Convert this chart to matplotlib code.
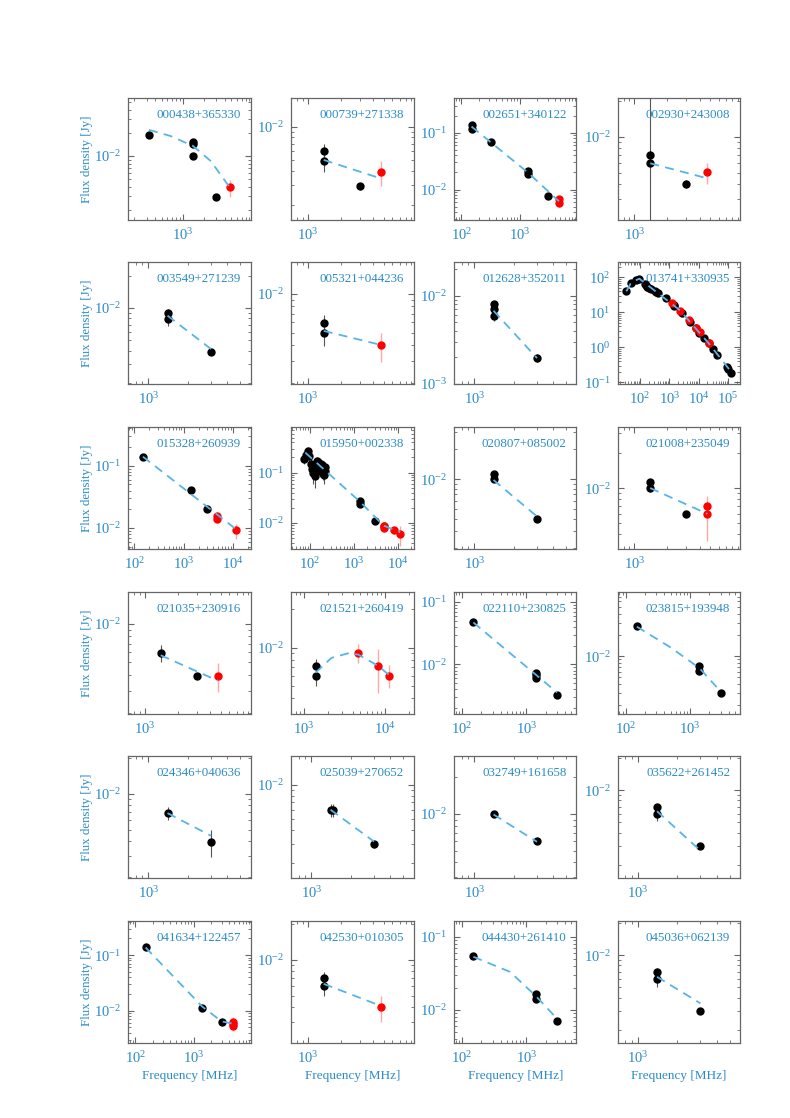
import matplotlib
matplotlib.use("Agg")
import matplotlib.pyplot as plt
from matplotlib.ticker import LogLocator, LogFormatterSciNotation, NullFormatter

plt.rcParams['font.family'] = ['Liberation Serif', 'DejaVu Serif']
plt.rcParams['mathtext.fontset'] = 'stix'

# source names, one panel per source
names = ["000438+365330", "000739+271338", "002651+340122", "002930+243008",
         "003549+271239", "005321+044236", "012628+352011", "013741+330935",
         "015328+260939", "015950+002338", "020807+085002", "021008+235049",
         "021035+230916", "021521+260419", "022110+230825", "023815+193948",
         "024346+040636", "025039+270652", "032749+161658", "035622+261452",
         "041634+122457", "042530+010305", "044430+261410", "045036+062139"]

# catalogue points (black): frequency [MHz], flux [Jy], error [Jy]
blk_nu = [
    [325, 1400, 1400, 1400, 3000],
    [1400, 1400, 3000],
    [150, 150, 325, 1400, 1400, 3000],
    [1400, 1400, 3000],
    [1400, 1400, 3000],
    [1400, 1400],
    [1400, 1400, 1400, 3000],
    [34, 49, 74, 95, 150, 160, 178, 200, 232, 325, 365, 408, 750, 1400, 1420,
     2700, 5000, 8000, 10700, 15000, 22000, 31000, 43000, 90000, 105000, 130000],
    [150, 1400, 3000],
    [76, 84, 92, 99, 107, 115, 122, 130, 143, 151, 158, 166, 174, 181, 189, 197,
     204, 212, 220, 227, 1400, 1400, 3000],
    [1400, 1400, 3000],
    [1400, 1400, 3000],
    [1400, 3000],
    [1400, 1400],
    [150, 1400, 1400, 1400, 3000],
    [150, 1400, 1400, 3000],
    [1400, 3000],
    [1400, 1465, 3000],
    [1400, 3000],
    [1400, 1400, 3000],
    [150, 1400, 3000],
    [1400, 1400],
    [150, 1400, 1400, 3000],
    [1400, 1400, 3000],
]
blk_s = [
    [0.0188, 0.0152, 0.0142, 0.0099, 0.00297],
    [0.0060, 0.00493, 0.00293],
    [0.136, 0.118, 0.0683, 0.0210, 0.0191, 0.00783],
    [0.00706, 0.0061, 0.00403],
    [0.00892, 0.00784, 0.00391],
    [0.00593, 0.00492],
    [0.00804, 0.00705, 0.00591, 0.00198],
    [41, 70, 87, 92, 64, 60, 55, 50, 46, 42, 39, 36, 25, 16, 15.5,
     9.5, 5.4, 3.5, 2.6, 1.9, 1.3, 0.9, 0.62, 0.27, 0.24, 0.18],
    [0.140, 0.0404, 0.0204],
    [0.19, 0.22, 0.27, 0.21, 0.15, 0.12, 0.10, 0.085, 0.13, 0.17, 0.16, 0.13,
     0.11, 0.15, 0.14, 0.12, 0.10, 0.09, 0.13, 0.11, 0.027, 0.0232, 0.0108],
    [0.0112, 0.0100, 0.00394],
    [0.0112, 0.0100, 0.00597],
    [0.00593, 0.00395],
    [0.00711, 0.00604],
    [0.0482, 0.00738, 0.00668, 0.00607, 0.00322],
    [0.0271, 0.0072, 0.0061, 0.00303],
    [0.00692, 0.00395],
    [0.0060, 0.0060, 0.00297],
    [0.0100, 0.00594],
    [0.00698, 0.0060, 0.00299],
    [0.137, 0.0112, 0.0062],
    [0.00706, 0.0060],
    [0.0542, 0.0164, 0.0141, 0.0071],
    [0.00697, 0.00596, 0.0030],
]
blk_e = [
    [0.0015, 0.0008, 0.0008, 0.0006, 0.0002],
    [0.0010, 0.0010, 0.0002],
    [0.012, 0.010, 0.004, 0.0015, 0.0015, 0.0005],
    [0.02, 0.0006, 0.0003],
    [0.0009, 0.0010, 0.0003],
    [0.0009, 0.0010],
    [0.0005, 0.0005, 0.0008, 0.0002],
    [4, 6, 8, 8, 5, 5, 5, 4, 4, 3, 3, 3, 2, 1, 1,
     0.8, 0.4, 0.3, 0.2, 0.15, 0.1, 0.08, 0.05, 0.03, 0.02, 0.02],
    [0.012, 0.003, 0.001],
    [0.04, 0.05, 0.05, 0.04, 0.04, 0.04, 0.04, 0.035, 0.03, 0.03, 0.03, 0.03,
     0.03, 0.03, 0.03, 0.03, 0.03, 0.03, 0.03, 0.03, 0.002, 0.002, 0.0006],
    [0.0006, 0.0006, 0.0002],
    [0.0008, 0.0008, 0.0003],
    [0.0009, 0.0002],
    [0.0010, 0.0010],
    [0.005, 0.0006, 0.0006, 0.0006, 0.0002],
    [0.0025, 0.0006, 0.0006, 0.0002],
    [0.0009, 0.0010],
    [0.0008, 0.0008, 0.0002],
    [0.0006, 0.0003],
    [0.0005, 0.0009, 0.0002],
    [0.012, 0.0008, 0.0004],
    [0.0008, 0.0010],
    [0.005, 0.0012, 0.0012, 0.0004],
    [0.0006, 0.0009, 0.0002],
]

# new measurements (red)
red_nu = [[4700], [4700], [4700, 4700], [4700], [], [4700], [], [1200, 2300, 4700, 8200, 11200, 22300],
          [4700, 4700, 11200], [4700, 4700, 4700, 8200, 11200], [], [4700, 4700],
          [4700], [4700, 8200, 11200], [], [],
          [], [], [], [],
          [4700, 4700, 4700], [4700], [], []]
red_s = [[0.00396], [0.00395], [0.00685, 0.00582], [0.00505], [], [0.00396], [], [18, 11, 5.9, 3.6, 2.7, 1.3],
         [0.0154, 0.0140, 0.00918], [0.0086, 0.0080, 0.0088, 0.0071, 0.0060], [], [0.00704, 0.00597],
         [0.00395], [0.00906, 0.00711, 0.00604], [], [],
         [], [], [], [],
         [0.00632, 0.00577, 0.00521], [0.0040], [], []]
red_e = [[0.0010], [0.0010], [0.0008, 0.0008], [0.0010], [], [0.0010], [], [1, 0.6, 0.3, 0.2, 0.15, 0.1],
         [0.0025, 0.002, 0.0025], [0.0015, 0.0015, 0.0012, 0.0012, 0.0025], [], [0.0006, 0.0025],
         [0.0010], [0.0015, 0.0027, 0.0012], [], [],
         [], [], [], [],
         [0.0012, 0.0010, 0.0010], [0.0010], [], []]

# fitted spectra
fit_nu = [[325, 660, 1400, 2520, 4700], [1400, 4700], [150, 1400, 4700], [1400, 4700],
          [1400, 3000], [1400, 4700], [1400, 3000], [34, 50, 95, 2300, 22300, 130000],
          [150, 11200], [80, 1400, 4700, 11200], [1400, 3000], [1400, 4700],
          [1400, 4700], [1400, 2200, 3500, 4700, 8200, 11200], [150, 3000], [150, 490, 1400, 2600],
          [1400, 3000], [1400, 3000], [1400, 3000], [1400, 3000],
          [150, 1400, 3000, 4700], [1400, 4700], [150, 556, 1400, 2800], [1400, 3000]]
fit_s = [[0.0218, 0.0182, 0.0135, 0.0086, 0.00396], [0.00504, 0.00344], [0.128, 0.0197, 0.00622], [0.00601, 0.0045],
         [0.00847, 0.00414], [0.00515, 0.0040], [0.00674, 0.00195], [40, 72, 92, 11.5, 1.3, 0.2],
         [0.140, 0.00966], [0.25, 0.026, 0.0088, 0.0065], [0.0098, 0.0042], [0.0100, 0.0060],
         [0.00569, 0.0036], [0.00635, 0.0083, 0.0090, 0.0088, 0.0072, 0.0061], [0.047, 0.00356], [0.0262, 0.0135, 0.0068, 0.00365],
         [0.0069, 0.00446], [0.0060, 0.00313], [0.0099, 0.0059], [0.00634, 0.0027],
         [0.137, 0.0118, 0.0064, 0.0058], [0.00628, 0.0041], [0.053, 0.033, 0.0155, 0.0081], [0.00626, 0.00353]]

txt_col = '#2a8bc6'
fit_col = '#56b4e9'
frame_col = '#666666'

fig = plt.figure(figsize=(7.9, 11.18), dpi=100)
W, H = 790.0, 1118.0
col_left = [128, 291, 454, 617.5]
row_top = [98, 262, 427, 592, 756, 921]
aw, ah = 122.5, 122

for k, name in enumerate(names):
    r, c = divmod(k, 4)
    ax = fig.add_axes([col_left[c] / W, 1 - (row_top[r] + ah) / H, aw / W, ah / H])
    ax.set_xscale('log')
    ax.set_yscale('log')

    ax.errorbar(blk_nu[k], blk_s[k], yerr=blk_e[k], fmt='o', color='black', ms=5,
                ecolor='#555555', elinewidth=0.8, capsize=0, zorder=3)
    if red_nu[k]:
        ax.errorbar(red_nu[k], red_s[k], yerr=red_e[k], fmt='o', color='red', ms=5,
                    ecolor=(1, 0, 0, 0.35), elinewidth=1.0, capsize=0, zorder=3)
    ax.plot(fit_nu[k], fit_s[k], color=fit_col, lw=1.3, dashes=(5, 3.5), zorder=4)

    all_nu = blk_nu[k] + red_nu[k]
    all_s = blk_s[k] + red_s[k]
    ax.set_xlim(min(all_nu) / 2, max(all_nu) * 2)
    ax.set_ylim(min(all_s) / 2, max(all_s) * 3)

    for axis in (ax.xaxis, ax.yaxis):
        axis.set_major_locator(LogLocator(base=10, numticks=20))
        axis.set_major_formatter(LogFormatterSciNotation())
        axis.set_minor_locator(LogLocator(base=10, subs=tuple(range(2, 10)), numticks=50))
        axis.set_minor_formatter(NullFormatter())

    ax.tick_params(which='both', direction='in', top=True, right=True,
                   colors=frame_col, labelcolor=txt_col, labelsize=10.5, pad=5)
    ax.tick_params(which='major', length=4, width=0.8)
    ax.tick_params(which='minor', length=2.5, width=0.6)
    for sp in ax.spines.values():
        sp.set_color(frame_col)
        sp.set_linewidth(0.9)

    ax.text(0.92, 0.86, name, transform=ax.transAxes, ha='right', va='center',
            color=txt_col, fontsize=9.3)

    if c == 0:
        ax.set_ylabel('Flux density [Jy]', color=txt_col, fontsize=9.3)
        ax.yaxis.set_label_coords(-0.337, 0.5)
        ax.yaxis.label.set_va('center')
    if r == 5:
        ax.set_xlabel('Frequency [MHz]', color=txt_col, fontsize=9.5)
        ax.xaxis.set_label_coords(0.5, -0.27)
        ax.xaxis.label.set_va('center')

plt.savefig('out.png', dpi=100)
